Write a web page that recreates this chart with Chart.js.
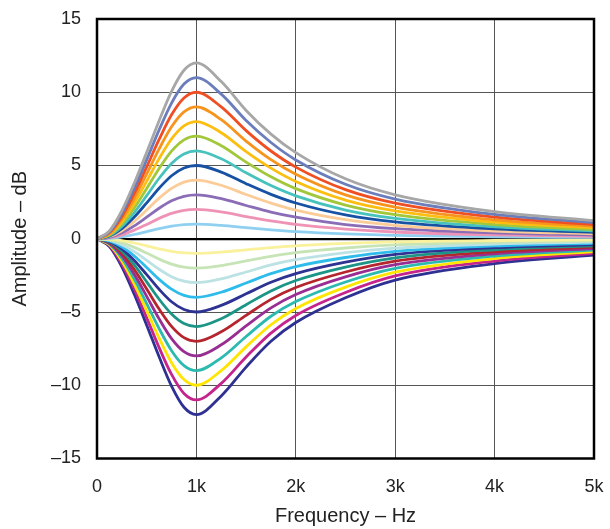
<!DOCTYPE html>
<html>
<head>
<meta charset="utf-8">
<script src="https://cdn.jsdelivr.net/npm/chart.js@4.4.1/dist/chart.umd.min.js"></script>
<style>
  body { margin: 0; background: #fff; }
</style>
</head>
<body>
<canvas id="eqChart" width="610" height="529"></canvas>
<script>
// Frequency points (Hz) read along the x axis
const freqHz = [0, 125, 250, 375, 500, 625, 750, 875, 1000, 1250, 1500, 1750, 2000, 2500, 3000, 4000, 5000];

// Boost curves, +1 dB .. +12 dB
const boost1  = [0, 0.03, 0.13, 0.29, 0.49, 0.69, 0.86, 0.97, 1, 0.91, 0.76, 0.61, 0.49, 0.33, 0.23, 0.13, 0.09];
const boost2  = [0, 0.07, 0.27, 0.59, 0.98, 1.39, 1.73, 1.94, 2, 1.83, 1.51, 1.22, 0.98, 0.66, 0.46, 0.26, 0.17];
const boost3  = [0, 0.10, 0.41, 0.88, 1.47, 2.08, 2.59, 2.90, 3, 2.74, 2.27, 1.82, 1.47, 0.97, 0.69, 0.40, 0.25];
const boost4  = [0, 0.14, 0.55, 1.18, 1.96, 2.77, 3.44, 3.87, 4, 3.65, 3.02, 2.43, 1.95, 1.30, 0.92, 0.53, 0.34];
const boost5  = [0, 0.18, 0.69, 1.48, 2.45, 3.45, 4.30, 4.83, 5, 4.55, 3.76, 3.03, 2.44, 1.63, 1.15, 0.67, 0.44];
const boost6  = [0, 0.22, 0.84, 1.79, 2.94, 4.13, 5.14, 5.79, 6, 5.46, 4.50, 3.63, 2.93, 1.96, 1.39, 0.82, 0.53];
const boost7  = [0, 0.26, 1.00, 2.10, 3.43, 4.80, 5.98, 6.75, 7, 6.35, 5.23, 4.23, 3.42, 2.30, 1.64, 0.97, 0.63];
const boost8  = [0, 0.31, 1.16, 2.43, 3.93, 5.47, 6.82, 7.71, 8, 7.24, 5.95, 4.82, 3.91, 2.64, 1.90, 1.13, 0.74];
const boost9  = [0, 0.35, 1.33, 2.75, 4.42, 6.13, 7.64, 8.66, 9, 8.13, 6.67, 5.40, 4.40, 2.99, 2.16, 1.29, 0.85];
const boost10 = [0, 0.41, 1.52, 3.09, 4.91, 6.78, 8.46, 9.61, 10, 9.00, 7.38, 5.99, 4.89, 3.35, 2.43, 1.47, 0.97];
const boost11 = [0, 0.46, 1.71, 3.43, 5.40, 7.43, 9.26, 10.56, 11, 9.87, 8.07, 6.57, 5.38, 3.72, 2.71, 1.66, 1.10];
const boost12 = [0, 0.53, 1.91, 3.79, 5.90, 8.06, 10.06, 11.50, 12, 10.73, 8.76, 7.14, 5.88, 4.09, 3.00, 1.85, 1.24];

// Cut curves, -1 dB .. -12 dB
const cut1  = [0, -0.03, -0.13, -0.29, -0.49, -0.69, -0.86, -0.97, -1, -0.91, -0.76, -0.60, -0.48, -0.32, -0.21, -0.12, -0.08];
const cut2  = [0, -0.07, -0.27, -0.59, -0.98, -1.39, -1.73, -1.94, -2, -1.83, -1.51, -1.20, -0.95, -0.63, -0.42, -0.24, -0.15];
const cut3  = [0, -0.10, -0.41, -0.88, -1.47, -2.08, -2.59, -2.90, -3, -2.74, -2.27, -1.78, -1.43, -0.95, -0.64, -0.36, -0.23];
const cut4  = [0, -0.14, -0.55, -1.18, -1.96, -2.77, -3.44, -3.87, -4, -3.65, -3.02, -2.38, -1.90, -1.28, -0.86, -0.49, -0.31];
const cut5  = [0, -0.18, -0.69, -1.48, -2.45, -3.45, -4.30, -4.83, -5, -4.55, -3.76, -2.97, -2.38, -1.60, -1.07, -0.61, -0.40];
const cut6  = [0, -0.22, -0.84, -1.79, -2.94, -4.13, -5.14, -5.79, -6, -5.46, -4.50, -3.56, -2.85, -1.93, -1.30, -0.75, -0.48];
const cut7  = [0, -0.26, -1.00, -2.10, -3.43, -4.80, -5.98, -6.75, -7, -6.35, -5.23, -4.14, -3.33, -2.27, -1.53, -0.89, -0.57];
const cut8  = [0, -0.31, -1.16, -2.43, -3.93, -5.47, -6.82, -7.71, -8, -7.24, -5.95, -4.72, -3.81, -2.60, -1.77, -1.03, -0.67];
const cut9  = [0, -0.35, -1.33, -2.75, -4.42, -6.13, -7.64, -8.66, -9, -8.13, -6.67, -5.29, -4.29, -2.95, -2.02, -1.18, -0.77];
const cut10 = [0, -0.41, -1.52, -3.09, -4.91, -6.78, -8.46, -9.61, -10, -9.00, -7.38, -5.87, -4.76, -3.30, -2.28, -1.35, -0.88];
const cut11 = [0, -0.46, -1.71, -3.43, -5.40, -7.43, -9.26, -10.56, -11, -9.87, -8.07, -6.44, -5.24, -3.67, -2.54, -1.52, -1.00];
const cut12 = [0, -0.53, -1.91, -3.79, -5.90, -8.06, -10.06, -11.50, -12, -10.73, -8.76, -7.00, -5.72, -4.03, -2.82, -1.70, -1.12];

const xTicks = [0, 1000, 2000, 3000, 4000, 5000];
const yTicks = [-15, -10, -5, 0, 5, 10, 15];

const curves = [
    { label: '+12 dB', data: boost12, color: '#A7A7A7' },
    { label: '+11 dB', data: boost11, color: '#6B7DBB' },
    { label: '+10 dB', data: boost10, color: '#F04E23' },
    { label: '+9 dB',  data: boost9,  color: '#F7941D' },
    { label: '+8 dB',  data: boost8,  color: '#FDBE12' },
    { label: '+7 dB',  data: boost7,  color: '#A2C73B' },
    { label: '+6 dB',  data: boost6,  color: '#48C2BC' },
    { label: '+5 dB',  data: boost5,  color: '#1651A4' },
    { label: '+4 dB',  data: boost4,  color: '#FBCB98' },
    { label: '+3 dB',  data: boost3,  color: '#8A6DB6' },
    { label: '+2 dB',  data: boost2,  color: '#EF93B6' },
    { label: '+1 dB',  data: boost1,  color: '#8FD0F1' },
    { label: '-1 dB',  data: cut1,  color: '#FAF19C' },
    { label: '-2 dB',  data: cut2,  color: '#C7E4B6' },
    { label: '-3 dB',  data: cut3,  color: '#BCE2E4' },
    { label: '-4 dB',  data: cut4,  color: '#2FBCEB' },
    { label: '-5 dB',  data: cut5,  color: '#2E3393' },
    { label: '-6 dB',  data: cut6,  color: '#1C9586' },
    { label: '-7 dB',  data: cut7,  color: '#B5252D' },
    { label: '-8 dB',  data: cut8,  color: '#982D92' },
    { label: '-9 dB',  data: cut9,  color: '#2CBAB0' },
    { label: '-10 dB', data: cut10, color: '#FFE500' },
    { label: '-11 dB', data: cut11, color: '#C4248C' },
    { label: '-12 dB', data: cut12, color: '#2E3192' }
];

// black frame around the plot area
const frame = {
    id: 'frame',
    afterDatasetsDraw(chart) {
        const a = chart.chartArea;
        const c = chart.ctx;
        c.save();
        c.strokeStyle = '#000';
        c.lineWidth = 2.5;
        c.strokeRect(a.left, a.top, a.right - a.left, a.bottom - a.top);
        c.restore();
    }
};

const labelFont = { family: 'Liberation Sans, Arial', size: 18 };
const titleFont = { family: 'Liberation Sans, Arial', size: 20 };

const ctx = document.getElementById('eqChart').getContext('2d');
const eqChart = new Chart(ctx, {
    type: 'line',
    data: {
        datasets: curves.map(c => ({
            label: c.label,
            data: freqHz.map((f, i) => ({ x: f, y: c.data[i] })),
            borderColor: c.color,
            borderWidth: 2.8,
            pointRadius: 0,
            fill: false,
            cubicInterpolationMode: 'monotone'
        }))
    },
    options: {
        responsive: false,
        animation: false,
        layout: { padding: { top: 19, right: 16, left: 0, bottom: 0 } },
        plugins: {
            legend: { display: false },
            tooltip: { enabled: false }
        },
        scales: {
            x: {
                type: 'linear',
                min: 0,
                max: 5000,
                afterBuildTicks: s => { s.ticks = xTicks.map(v => ({ value: v })); },
                afterFit: s => { s.height = 70.5; s.paddingLeft = 0; s.paddingRight = 0; },
                ticks: {
                    color: '#222',
                    padding: 18,
                    maxRotation: 0,
                    font: labelFont,
                    callback: v => v === 0 ? '0' : (v / 1000) + 'k'
                },
                grid: { color: '#555', lineWidth: 1, drawTicks: false },
                border: { display: false },
                title: {
                    display: true,
                    text: 'Frequency \u2013 Hz',
                    color: '#222',
                    font: titleFont,
                    padding: { top: 0, bottom: 1 }
                }
            },
            y: {
                min: -15,
                max: 15,
                afterBuildTicks: s => { s.ticks = yTicks.map(v => ({ value: v })); },
                afterFit: s => { s.width = 97; s.paddingTop = 0; s.paddingBottom = 0; },
                ticks: {
                    color: '#222',
                    padding: 16,
                    font: labelFont,
                    callback: v => v < 0 ? '\u2013' + (-v) : String(v)
                },
                grid: {
                    color: c => c.tick && c.tick.value === 0 ? '#000' : '#555',
                    lineWidth: c => c.tick && c.tick.value === 0 ? 2.2 : 1,
                    drawTicks: false
                },
                border: { display: false },
                title: {
                    display: true,
                    text: 'Amplitude \u2013 dB',
                    color: '#222',
                    font: titleFont,
                    padding: { top: 8, bottom: 0 }
                }
            }
        }
    },
    plugins: [frame]
});
</script>
</body>
</html>
